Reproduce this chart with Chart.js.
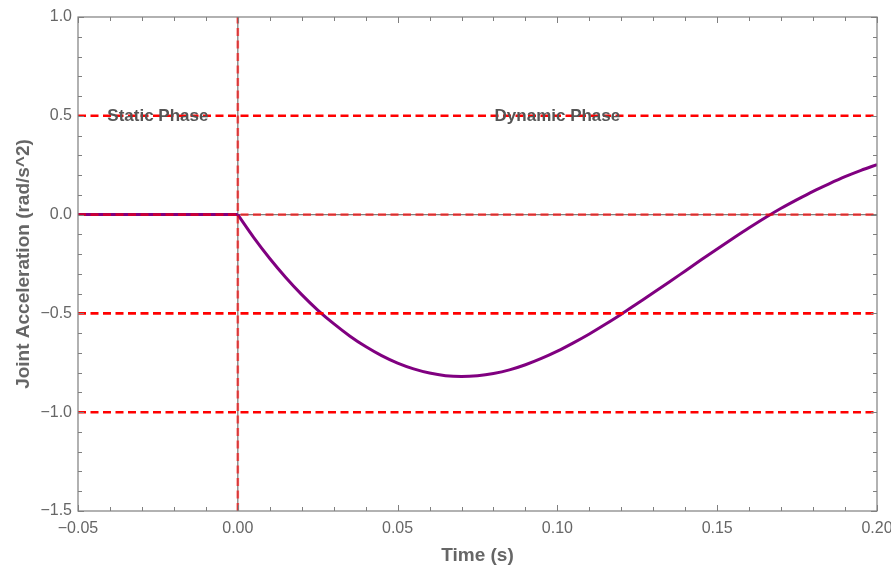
<!DOCTYPE html>
<html>
<head>
<meta charset="utf-8">
<title>Joint Acceleration</title>
<script src="https://cdn.jsdelivr.net/npm/chart.js@4.4.1/dist/chart.umd.min.js"></script>
<style>
  body { margin: 0; background: #fff; overflow: hidden; }
  #wrap { width: 891px; height: 567px; position: relative; }
</style>
</head>
<body>
<div id="wrap"><canvas id="accelChart"></canvas></div>
<script>
// data
var xRange = [-0.05, 0.20];
var yRange = [-1.5, 1.0];

var staticTime  = [-0.05, 0.0];
var staticAccel = [0.0, 0.0];

var dynTime = [0.000, 0.005, 0.010, 0.015, 0.020, 0.025, 0.030, 0.035, 0.040, 0.045,
               0.050, 0.055, 0.060, 0.065, 0.070, 0.075, 0.080, 0.085, 0.090, 0.095,
               0.100, 0.105, 0.110, 0.115, 0.120, 0.125, 0.130, 0.135, 0.140, 0.145,
               0.150, 0.155, 0.160, 0.165, 0.170, 0.175, 0.180, 0.185, 0.190, 0.195, 0.200];
var dynAccel = [0.000, -0.116, -0.222, -0.318, -0.405, -0.483, -0.552, -0.614, -0.668, -0.714,
                -0.752, -0.781, -0.802, -0.815, -0.819, -0.815, -0.804, -0.786, -0.760, -0.728,
                -0.691, -0.649, -0.604, -0.555, -0.504, -0.450, -0.396, -0.341, -0.285, -0.229,
                -0.174, -0.120, -0.067, -0.016, 0.032, 0.076, 0.118, 0.156, 0.192, 0.224, 0.253];

var refLevels = [0.5, -0.5, -1.0];
var zeroLevel = 0.0;
var phaseNames = ["Static Phase", "Dynamic Phase"];
var phaseX = [-0.025, 0.10];
var phaseY = 0.5;

function pts(xs, ys) {
  var out = [];
  for (var i = 0; i < xs.length; i++) out.push({x: xs[i], y: ys[i]});
  return out;
}

function minus(v, d) {
  var s = Math.abs(v).toFixed(d);
  return (v < -1e-9 ? "\u2212" : "") + s;
}

var datasets = [];

// gray axes through the origin
datasets.push({ data: pts(xRange, [zeroLevel, zeroLevel]), borderColor: "#7f7f7f", borderWidth: 1.3, order: 10 });
datasets.push({ data: pts([0, 0], yRange), borderColor: "#7f7f7f", borderWidth: 1.3, order: 10 });

// curve
datasets.push({ data: pts(staticTime, staticAccel), borderColor: "#800080", borderWidth: 3, order: 5 });
datasets.push({ data: pts(dynTime, dynAccel), borderColor: "#800080", borderWidth: 3, order: 5,
  cubicInterpolationMode: "monotone" });

// red dashed markers
for (var r = 0; r < refLevels.length; r++) {
  datasets.push({ data: pts(xRange, [refLevels[r], refLevels[r]]), borderColor: "#ff0000",
    borderWidth: 2.6, borderDash: [8, 4.5], order: 2 });
}
datasets.push({ data: pts(xRange, [zeroLevel, zeroLevel]), borderColor: "rgba(255,0,0,0.6)",
  borderWidth: 2.6, borderDash: [8, 4.5], order: 2 });
datasets.push({ data: pts([0, 0], yRange), borderColor: "rgba(255,0,0,0.6)",
  borderWidth: 2.6, borderDash: [8, 4.5], order: 2 });

var framePlugin = {
  id: "frame",
  afterDatasetsDraw: function (chart) {
    var ctx = chart.ctx, a = chart.chartArea;
    var xs = chart.scales.x, ys = chart.scales.y;
    ctx.save();
    ctx.strokeStyle = "#7f7f7f";
    ctx.lineWidth = 1.2;
    ctx.strokeRect(a.left, a.top, a.right - a.left, a.bottom - a.top);
    ctx.lineWidth = 1;
    ctx.beginPath();
    // x ticks every 0.01, major each 0.05
    for (var k = -5; k <= 20; k++) {
      var px = Math.round(xs.getPixelForValue(k / 100)) + 0.5;
      var len = (k % 5 === 0) ? 6 : 4;
      ctx.moveTo(px, a.bottom); ctx.lineTo(px, a.bottom - len);
      ctx.moveTo(px, a.top); ctx.lineTo(px, a.top + len);
    }
    // y ticks every 0.1, major each 0.5
    for (var j = -15; j <= 10; j++) {
      var py = Math.round(ys.getPixelForValue(j / 10)) + 0.5;
      var ylen = (j % 5 === 0) ? 6 : 4;
      ctx.moveTo(a.left, py); ctx.lineTo(a.left + ylen, py);
      ctx.moveTo(a.right, py); ctx.lineTo(a.right - ylen, py);
    }
    ctx.stroke();

    // phase labels
    ctx.font = "bold 17px 'Liberation Sans', Arial, sans-serif";
    ctx.fillStyle = "#555555";
    ctx.textAlign = "center";
    ctx.textBaseline = "middle";
    for (var p = 0; p < phaseNames.length; p++) {
      ctx.fillText(phaseNames[p], xs.getPixelForValue(phaseX[p]), ys.getPixelForValue(phaseY) + 1);
    }
    ctx.restore();
  }
};

var tickFont = { family: "'Liberation Sans', Arial, sans-serif", size: 16 };
var titleFont = { family: "'Liberation Sans', Arial, sans-serif", size: 19, weight: "bold" };

new Chart(document.getElementById("accelChart"), {
  type: "scatter",
  data: { datasets: datasets },
  options: {
    responsive: true,
    maintainAspectRatio: false,
    animation: false,
    layout: { padding: { top: 17, right: 14, left: 0, bottom: 0 } },
    elements: { point: { radius: 0 }, line: { tension: 0 } },
    datasets: { scatter: { showLine: true, fill: false } },
    plugins: { legend: { display: false }, tooltip: { enabled: false } },
    scales: {
      x: {
        type: "linear", min: xRange[0], max: xRange[1],
        grid: { display: false, drawTicks: false },
        border: { display: false },
        ticks: { stepSize: 0.05, padding: 8, color: "#666666", font: tickFont,
          callback: function (v) { return minus(v, 2); } },
        title: { display: true, text: "Time (s)", color: "#666666", font: titleFont, padding: { top: 0, bottom: 0 } },
        afterFit: function (s) { s.height = 56; s.paddingLeft = 0; s.paddingRight = 0; }
      },
      y: {
        type: "linear", min: yRange[0], max: yRange[1],
        grid: { display: false, drawTicks: false },
        border: { display: false },
        ticks: { stepSize: 0.5, padding: 6, color: "#666666", font: tickFont,
          callback: function (v) { return minus(v, 1); } },
        title: { display: true, text: "Joint Acceleration (rad/s^2)", color: "#666666", font: titleFont, padding: { top: 12, bottom: 0 } },
        afterFit: function (s) { s.width = 78; s.paddingTop = 0; s.paddingBottom = 0; }
      }
    }
  },
  plugins: [framePlugin]
});
</script>
</body>
</html>
